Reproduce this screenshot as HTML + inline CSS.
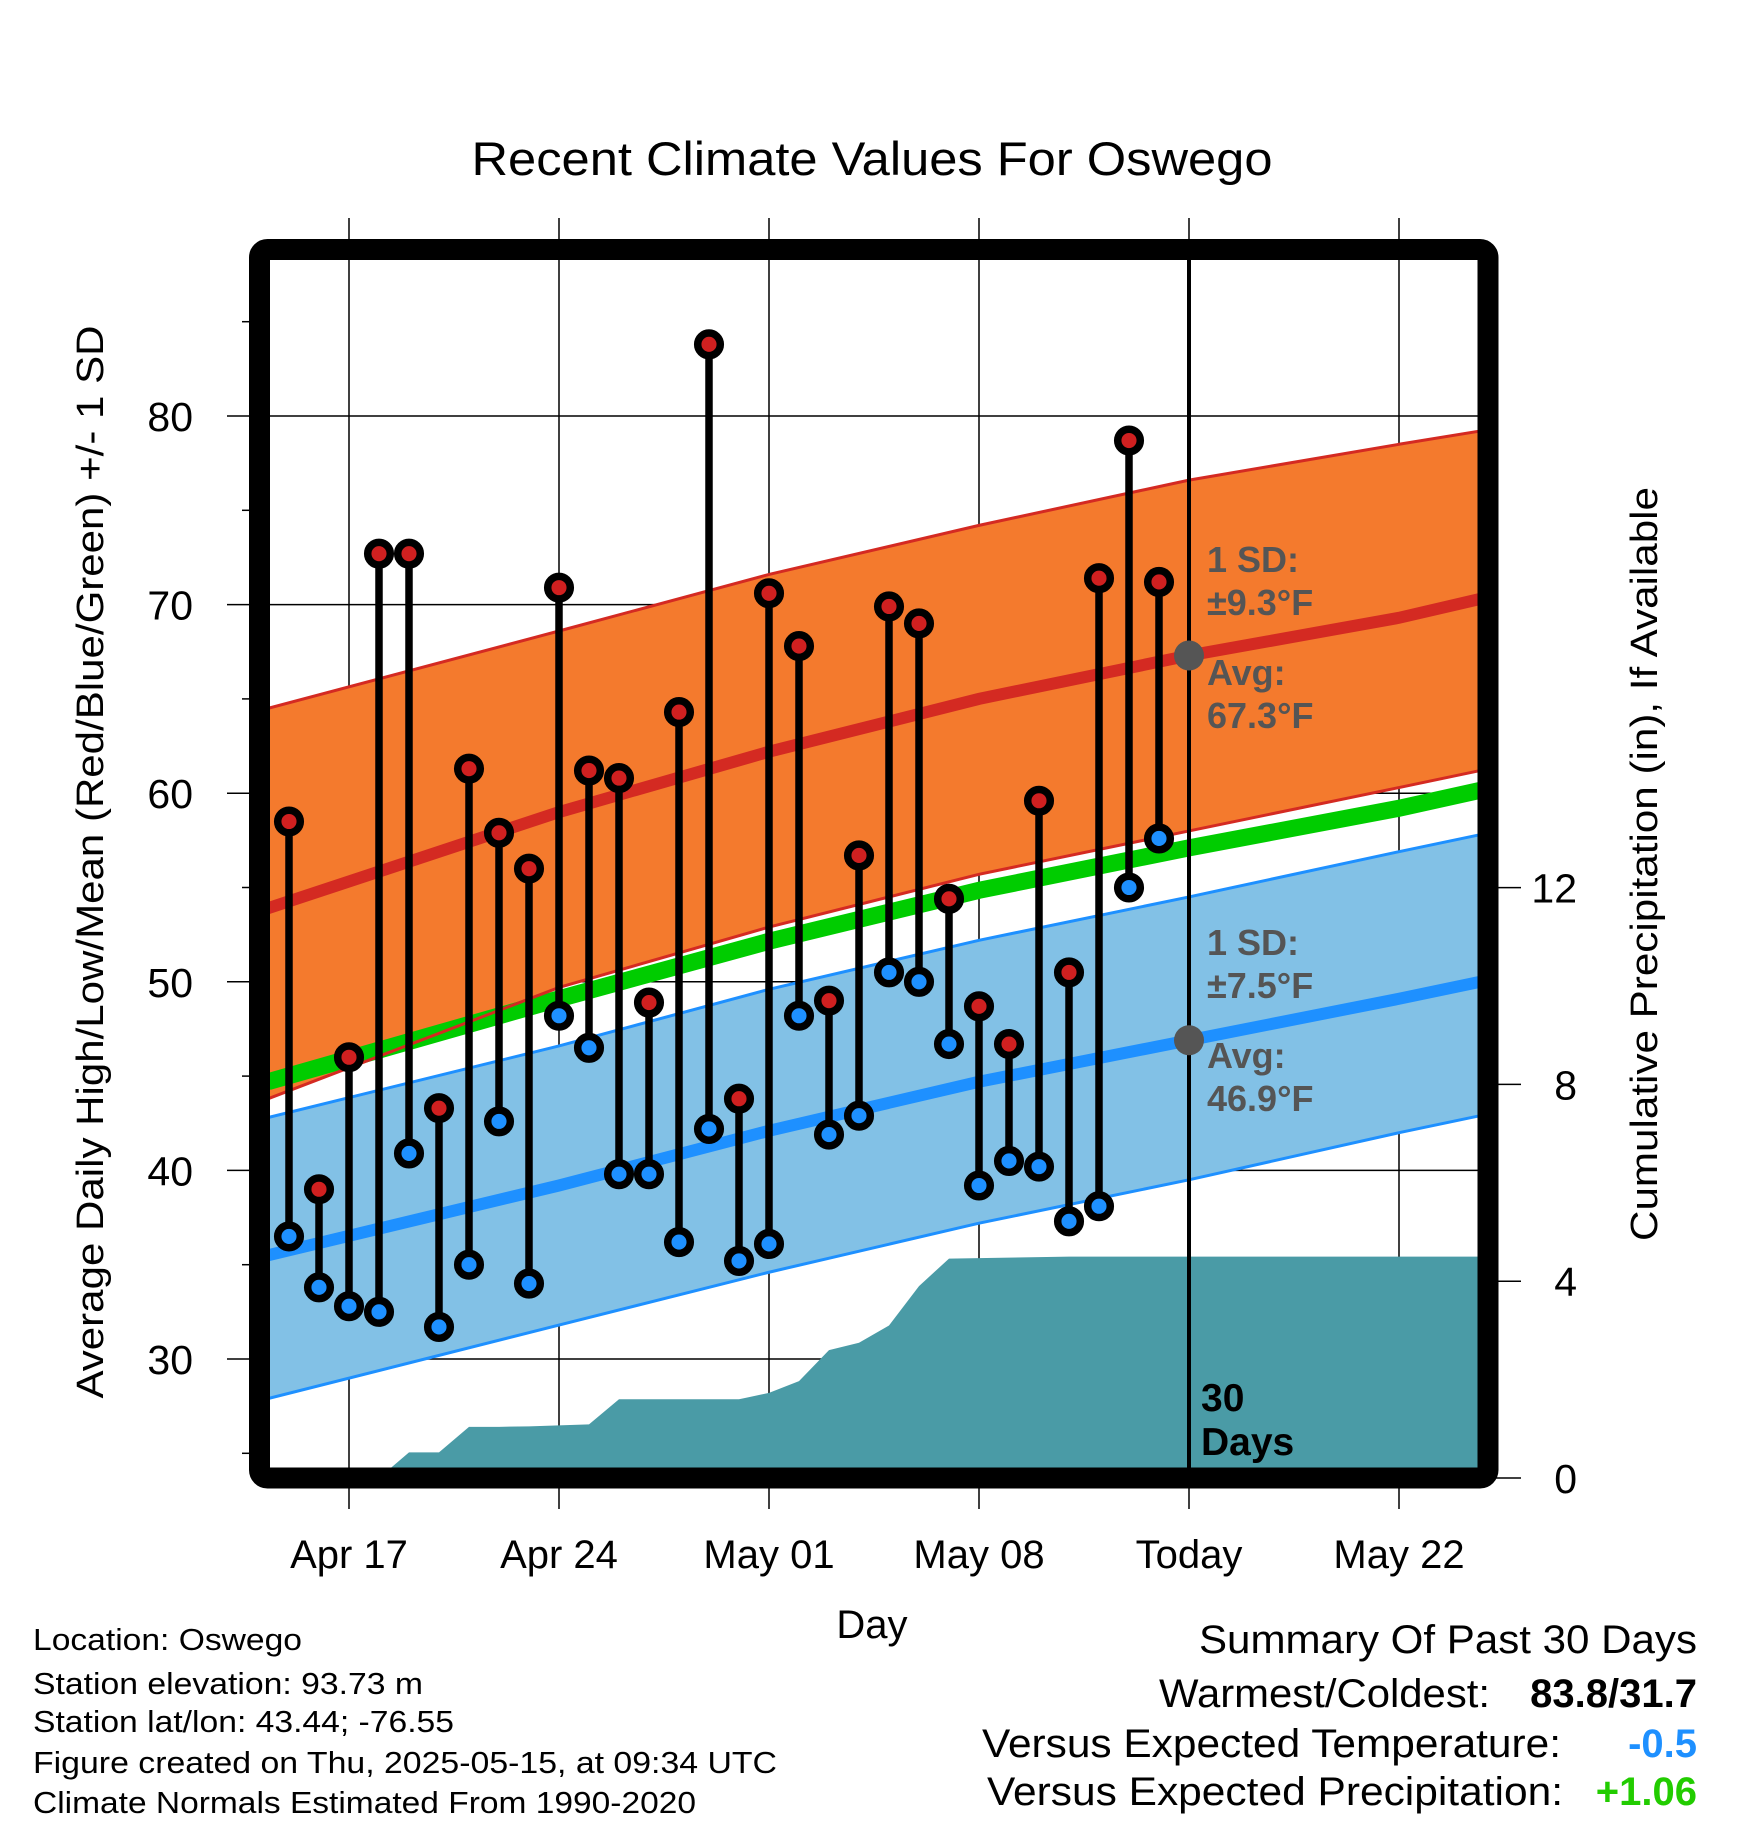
<!DOCTYPE html>
<html><head><meta charset="utf-8"><style>
html,body{margin:0;padding:0;background:#fff}
svg{display:block;font-family:"Liberation Sans",Arial,sans-serif}
</style></head><body>
<svg id="chart" width="1748" height="1828" viewBox="0 0 1748 1828" xmlns="http://www.w3.org/2000/svg">
<defs><clipPath id="plotclip"><rect x="270" y="260" width="1208" height="1208"/></clipPath></defs>
<text x="872" y="175" font-size="47" text-anchor="middle" textLength="801" lengthAdjust="spacingAndGlyphs">Recent Climate Values For Oswego</text>
<g id="grid"></g>
<g id="plot" clip-path="url(#plotclip)"></g>
<g id="axes"></g>
<rect x="259.5" y="249.5" width="1228.5" height="1228.5" rx="8" fill="none" stroke="#000" stroke-width="21"/>
<text transform="translate(103,862) rotate(-90)" font-size="38" text-anchor="middle" textLength="1073" lengthAdjust="spacingAndGlyphs">Average Daily High/Low/Mean (Red/Blue/Green) +/- 1 SD</text>
<text transform="translate(1657,864) rotate(-90)" font-size="38" text-anchor="middle" textLength="754" lengthAdjust="spacingAndGlyphs">Cumulative Precipitation (in), If Available</text>
<text x="872" y="1638" font-size="40" text-anchor="middle">Day</text>
<g font-size="31">
<text x="33" y="1650" textLength="269" lengthAdjust="spacingAndGlyphs">Location: Oswego</text>
<text x="33" y="1694" textLength="390" lengthAdjust="spacingAndGlyphs">Station elevation: 93.73 m</text>
<text x="33" y="1732" textLength="421" lengthAdjust="spacingAndGlyphs">Station lat/lon: 43.44; -76.55</text>
<text x="33" y="1773" textLength="744" lengthAdjust="spacingAndGlyphs">Figure created on Thu, 2025-05-15, at 09:34 UTC</text>
<text x="33" y="1813" textLength="663" lengthAdjust="spacingAndGlyphs">Climate Normals Estimated From 1990-2020</text>
</g>
<g font-size="40">
<text x="1697" y="1653" text-anchor="end" textLength="498" lengthAdjust="spacingAndGlyphs">Summary Of Past 30 Days</text>
<text x="1490" y="1707" text-anchor="end" textLength="331" lengthAdjust="spacingAndGlyphs">Warmest/Coldest:</text>
<text x="1697" y="1707" text-anchor="end" font-weight="bold">83.8/31.7</text>
<text x="1561" y="1757" text-anchor="end" textLength="579" lengthAdjust="spacingAndGlyphs">Versus Expected Temperature:</text>
<text x="1697" y="1757" text-anchor="end" font-weight="bold" fill="#1e90ff">-0.5</text>
<text x="1563" y="1805" text-anchor="end" textLength="576" lengthAdjust="spacingAndGlyphs">Versus Expected Precipitation:</text>
<text x="1697" y="1805" text-anchor="end" font-weight="bold" fill="#22cc00">+1.06</text>
</g>
</svg>
<script>
const dayIdx = [-2,-1,0,1,2,3,4,5,6,7,8,9,10,11,12,13,14,15,16,17,18,19,20,21,22,23,24,25,26,27];
const highs = [58.5,39,46,72.7,72.7,43.3,61.3,57.9,56,70.9,61.2,60.8,48.9,64.3,83.8,43.8,70.6,67.8,49,56.7,69.9,69,54.4,48.7,46.7,59.6,50.5,71.4,78.7,71.2];
const lows = [36.5,33.8,32.8,32.5,40.9,31.7,35,42.6,34,48.2,46.5,39.8,39.8,36.2,42.2,35.2,36.1,48.2,41.9,42.9,50.5,50,46.7,39.2,40.5,40.2,37.3,38.1,55,57.6];
const precip = [0,0,0,0,0.52,0.52,1.04,1.04,1.05,1.07,1.09,1.6,1.6,1.6,1.6,1.6,1.73,1.97,2.6,2.75,3.1,3.9,4.46,4.47,4.48,4.49,4.5,4.5,4.5,4.5];
const normDays = [-2.7,7,14,21,28,35,37.7];
const normHigh = [53.9,59.0,62.2,65.0,67.3,69.3,70.3];
const normLow = [35.5,39.2,42.1,44.7,46.9,49.1,50.0];
const highUpper = [64.5,68.6,71.6,74.2,76.6,78.5,79.2];
const highLower = [43.8,49.7,52.9,55.7,58.0,60.3,61.2];
const lowUpper = [42.8,46.6,49.6,52.2,54.5,56.9,57.8];
const lowLower = [27.9,31.8,34.6,37.2,39.5,42.0,42.9];
const xTickDays = [0,7,14,21,28,35];
const xTickLabels = ["Apr 17","Apr 24","May 01","May 08","Today","May 22"];
const yTicks = [30,40,50,60,70,80];
const yMinor = [25,35,45,55,65,75,85];
const y2Ticks = [0,4,8,12];

const NS = "http://www.w3.org/2000/svg";
const X = d => 349 + 30*d;
const Y = t => 416 + (80 - t)*18.86;
const Y2 = p => 1478 - p*49.2;
function mk(tag, attrs, parent){const e=document.createElementNS(NS,tag);for(const k in attrs)e.setAttribute(k,attrs[k]);parent.appendChild(e);return e;}
const grid=document.getElementById('grid'), plot=document.getElementById('plot'), axes=document.getElementById('axes');

function pts(arr){return normDays.map((d,i)=>X(d)+','+Y(arr[i]));}
let e;
e=mk('polygon',{points:pts(highUpper).concat(pts(highLower).reverse()).join(' '),fill:'#f47a2d'},plot);


e=mk('polygon',{points:pts(lowUpper).concat(pts(lowLower).reverse()).join(' '),fill:'#82c1e6'},plot);


const meanArr = normHigh.map((h,i)=>(h+normLow[i])/2);
e=mk('polyline',{points:pts(meanArr).join(' '),fill:'none',stroke:'#00cc00','stroke-width':17},plot);


[[highUpper,'#d42a22'],[highLower,'#d42a22'],[lowUpper,'#1e90ff'],[lowLower,'#1e90ff']].forEach(([a,c])=>{
 const l=mk('polyline',{points:pts(a).join(' '),fill:'none',stroke:c,'stroke-width':3},plot);
 
 
});
e=mk('polyline',{points:pts(normHigh).join(' '),fill:'none',stroke:'#d42a22','stroke-width':12},plot);


e=mk('polyline',{points:pts(normLow).join(' '),fill:'none',stroke:'#1e90ff','stroke-width':12},plot);



yTicks.forEach(t=>{const l=mk('line',{x1:227,x2:1478,y1:Y(t),y2:Y(t),stroke:'#000','stroke-width':1.5},grid);
 
 });
yMinor.forEach(t=>{const l=mk('line',{x1:242,x2:252,y1:Y(t),y2:Y(t),stroke:'#000','stroke-width':1.5},axes);
 
 });
xTickDays.forEach((d,i)=>{const l=mk('line',{x1:X(d),x2:X(d),y1:218,y2:1509,stroke:'#000','stroke-width':1.5},grid);
 
 
 const t=mk('text',{x:X(d),y:1568,'font-size':40,'text-anchor':'middle'},axes);t.textContent=xTickLabels[i];
 
 });
yTicks.forEach(v=>{const t=mk('text',{x:193,y:Y(v)+15,'font-size':41,'text-anchor':'end'},axes);t.textContent=v;
 
 });
y2Ticks.forEach(v=>{const l=mk('line',{x1:1488,x2:1521,y1:Y2(v),y2:Y2(v),stroke:'#000','stroke-width':1.5},axes);
 
 
 const t=mk('text',{x:1577,y:Y2(v)+15,'font-size':41,'text-anchor':'end'},axes);t.textContent=v;
 
 });

let pp=[X(1.45)+','+1500];
dayIdx.forEach((d,i)=>{ if(d>=1) pp.push(X(d)+','+Y2(precip[i])); });
pp.push('1480,'+Y2(precip[precip.length-1]),'1480,1500');
e=mk('polygon',{points:pp.join(' '),fill:'#4a9ba6'},plot);



e=mk('line',{x1:X(28),x2:X(28),y1:260,y2:1470,stroke:'#000','stroke-width':4},plot);



dayIdx.forEach((d,i)=>{
 const l=mk('line',{x1:X(d),x2:X(d),y1:Y(highs[i]),y2:Y(lows[i]),stroke:'#000','stroke-width':7.5},plot);
 
 
});
dayIdx.forEach((d,i)=>{
 const h=mk('circle',{cx:X(d),cy:Y(highs[i]),r:11.3,fill:'#d02020',stroke:'#000','stroke-width':7.5},plot);
 
 
 const lo=mk('circle',{cx:X(d),cy:Y(lows[i]),r:11.3,fill:'#1e90ff',stroke:'#000','stroke-width':7.5},plot);
 
 
});
[normHigh,normLow].forEach(a=>{const c=mk('circle',{cx:X(28),cy:Y(a[4]),r:15,fill:'#555'},plot);
 
 });
const ann=[['1 SD:',572],['±9.3°F',615],['Avg:',685],['67.3°F',728],['1 SD:',955],['±7.5°F',998],['Avg:',1068],['46.9°F',1111]];
ann.forEach(([s,y])=>{const t=mk('text',{x:1207,y:y,'font-size':36,'font-weight':'bold',fill:'#555'},plot);t.textContent=s;
 
 });
[['30',1411],['Days',1455]].forEach(([s,y])=>{const t=mk('text',{x:1201,y:y,'font-size':39,'font-weight':'bold',fill:'#000'},plot);t.textContent=s;
 
 });
</script>
</body></html>
